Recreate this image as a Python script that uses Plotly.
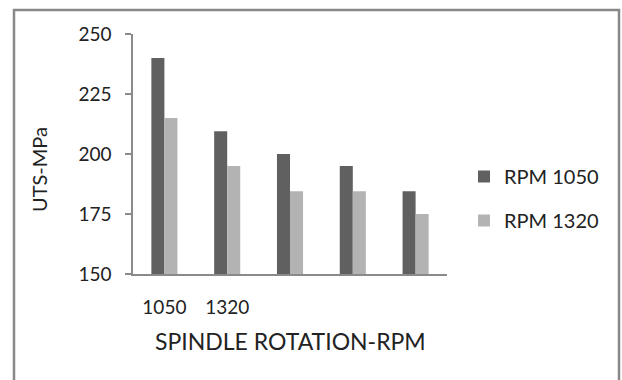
import plotly.graph_objects as go

categories = ["1050", "1320", "", "", ""]
rpm_1050 = [240, 209.5, 200, 195, 184.5]
rpm_1320 = [215, 195, 184.5, 184.5, 175]
y_ticks = [150, 175, 200, 225, 250]

FONT = "Lato, 'Open Sans', sans-serif"
W, H = 622, 380
L, R, T, B = 133, 175, 34, 106
pw, ph = W - L - R, H - T - B

def px(x):
    return (x - L) / pw

def py(y):
    return (H - B - y) / ph

xpos = list(range(len(categories)))

fig = go.Figure()
fig.add_trace(go.Bar(x=xpos, y=rpm_1050, name="RPM 1050", marker_color="#606060",
                     marker_line_width=0, legendgroup="a"))
fig.add_trace(go.Bar(x=xpos, y=rpm_1320, name="RPM 1320", marker_color="#b3b3b3",
                     marker_line_width=0, legendgroup="b"))

fig.update_layout(
    width=W, height=H,
    margin=dict(l=L, r=R, t=T, b=B, autoexpand=False),
    paper_bgcolor="white", plot_bgcolor="white",
    barmode="group", bargap=0.585, bargroupgap=0,
    font=dict(family=FONT, color="#222222", size=19),
    showlegend=True,
    legend=dict(x=px(464), y=py(157), xanchor="left", yanchor="top",
                font=dict(size=20, family=FONT, color="#222222"),
                traceorder="grouped", tracegroupgap=15,
                itemwidth=30, bgcolor="rgba(0,0,0,0)"),
    xaxis=dict(
        tickmode="array", tickvals=[i for i, c in enumerate(categories) if c],
        ticktext=[c for c in categories if c],
        range=[-0.5, len(categories) - 0.5],
        showline=True, linecolor="#8a8a8a", linewidth=1.5,
        ticks="", showgrid=False, zeroline=False,
        tickfont=dict(size=19, family=FONT, color="#222222"),
        ticklabelstandoff=15,
    ),
    yaxis=dict(
        range=[150, 250], tickvals=y_ticks, ticktext=[str(v) for v in y_ticks],
        showline=True, linecolor="#8a8a8a", linewidth=1.5,
        ticks="outside", ticklen=6, tickcolor="#8a8a8a", tickwidth=1.5,
        showgrid=False, zeroline=False,
        tickfont=dict(size=19, family=FONT, color="#222222"),
        ticklabelstandoff=10,
    ),
    shapes=[dict(type="rect", xref="paper", yref="paper",
                 x0=px(14), x1=px(619), y0=py(430), y1=py(10),
                 line=dict(color="#888888", width=2.5), fillcolor="rgba(0,0,0,0)",
                 layer="below")],
    annotations=[
        dict(text="UTS-MPa", xref="paper", yref="paper", x=px(39), y=py(170),
             showarrow=False, textangle=-90, xanchor="center", yanchor="middle",
             font=dict(size=20, family=FONT, color="#222222")),
        dict(text="SPINDLE ROTATION-RPM", xref="paper", yref="paper", x=px(290), y=py(341),
             showarrow=False, xanchor="center", yanchor="middle",
             font=dict(size=23, family=FONT, color="#222222")),
    ],
)

fig.write_html("out.html")
